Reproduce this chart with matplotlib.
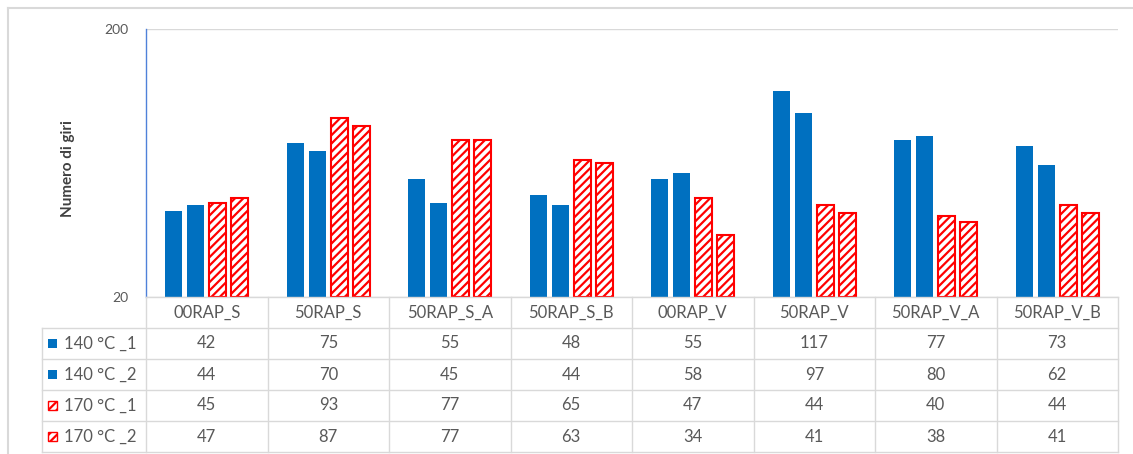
import matplotlib

matplotlib.use("Agg")
import matplotlib.pyplot as plt
import numpy as np
from matplotlib.lines import Line2D
from matplotlib.patches import Rectangle
from matplotlib.ticker import FuncFormatter

categories = ["00RAP_S", "50RAP_S", "50RAP_S_A", "50RAP_S_B",
              "00RAP_V", "50RAP_V", "50RAP_V_A", "50RAP_V_B"]
series_names = ["140 °C _1", "140 °C _2", "170 °C _1", "170 °C _2"]
t140_1 = [42, 75, 55, 48, 55, 117, 77, 73]
t140_2 = [44, 70, 45, 44, 58, 97, 80, 62]
t170_1 = [45, 93, 77, 65, 47, 44, 40, 44]
t170_2 = [47, 87, 77, 63, 34, 41, 38, 41]
y_ticks = [20, 200]

BLUE = "#0070C0"
RED = "#FF0000"
LINE = "#D9D9D9"
TEXT = "#595959"

plt.rcParams["font.family"] = ["Lato", "DejaVu Sans"]
plt.rcParams["hatch.linewidth"] = 1.6

W, H = 1133, 454
fig = plt.figure(figsize=(W / 100, H / 100), dpi=100)


def px_box(x0, y0, x1, y1):
    # pixel rectangle (top-left origin) -> figure fraction box
    return [x0 / W, 1 - y1 / H, (x1 - x0) / W, (y1 - y0) / H]


solid = dict(color=BLUE, linewidth=0)
hatched = dict(facecolor="white", edgecolor=RED, hatch="////", linewidth=1.5)
styles = [solid, solid, hatched, hatched]
series = [t140_1, t140_2, t170_1, t170_2]

ax = fig.add_axes(px_box(146, 29, 1118, 297))
ax.set_yscale("log")
ymin, ymax = y_ticks[0], y_ticks[-1]
ax.set_ylim(ymin, ymax)
ax.set_xlim(-0.5, len(categories) - 0.5)

x = np.arange(len(categories))
pitch, width = 0.181, 0.14
for i, (vals, st) in enumerate(zip(series, styles)):
    vals = np.asarray(vals, dtype=float)
    ax.bar(x + (i - 1.5) * pitch, vals - ymin, bottom=ymin, width=width,
           zorder=3, **st)

ax.set_yticks(y_ticks)
ax.yaxis.set_minor_locator(plt.NullLocator())
ax.yaxis.set_major_formatter(FuncFormatter(lambda v, _: f"{v:g}"))
ax.tick_params(axis="y", length=0, pad=13, labelsize=10, labelcolor=TEXT)
ax.set_xticks([])
ax.grid(axis="y", color=LINE, linewidth=1, zorder=0)
for side in ("top", "right", "bottom"):
    ax.spines[side].set_visible(False)
ax.spines["left"].set_color("#4F81D9")
ax.spines["left"].set_linewidth(1)
ax.set_ylabel("Numero di giri", fontsize=11, fontweight="bold", color="#404040")
ax.yaxis.set_label_coords(-0.073, 0.48)

# data table under the plot, columns aligned with the categories
tab = fig.add_axes(px_box(146, 297, 1118, 452))
tab.set_xlim(ax.get_xlim())
tab.set_ylim(len(series) + 1, 0)
tab.axis("off")

ux = 972 / len(categories)          # pixels per category
uy = 155 / (len(series) + 1)        # pixels per row
leg_left = -0.5 - 104 / ux
right = len(categories) - 0.5

kw = dict(color=LINE, linewidth=1, clip_on=False)
tab.plot([-0.5, right], [0, 0], **kw)
for r in range(1, len(series) + 2):
    tab.plot([leg_left, right], [r, r], **kw)
tab.plot([leg_left, leg_left], [1, len(series) + 1], **kw)
for c in range(len(categories) + 1):
    tab.plot([c - 0.5, c - 0.5], [0, len(series) + 1], **kw)

for c, name in enumerate(categories):
    tab.text(c, 0.5, name, ha="center", va="center", fontsize=12, color=TEXT)
    for r, vals in enumerate(series):
        tab.text(c, r + 1.5, f"{vals[c]}", ha="center", va="center",
                 fontsize=12, color=TEXT)

for r, (name, st) in enumerate(zip(series_names, styles)):
    sq = Rectangle((leg_left + 6 / ux, r + 1.5 - 4.5 / uy), 9 / ux, 9 / uy,
                   clip_on=False, **{k: v for k, v in st.items() if k != "linewidth"},
                   linewidth=1 if st is hatched else 0)
    tab.add_patch(sq)
    tab.text(leg_left + 22 / ux, r + 1.5, name, ha="left", va="center",
             fontsize=12, color=TEXT)

# chart-area frame
fig.add_artist(Line2D([8 / W, 8 / W], [0, 1 - 8 / H], transform=fig.transFigure,
                      color=LINE, linewidth=1.5))
fig.add_artist(Line2D([8 / W, 1], [1 - 8 / H, 1 - 8 / H], transform=fig.transFigure,
                      color=LINE, linewidth=1.5))

fig.savefig("out.png", dpi=100, facecolor="white")
plt.close(fig)
